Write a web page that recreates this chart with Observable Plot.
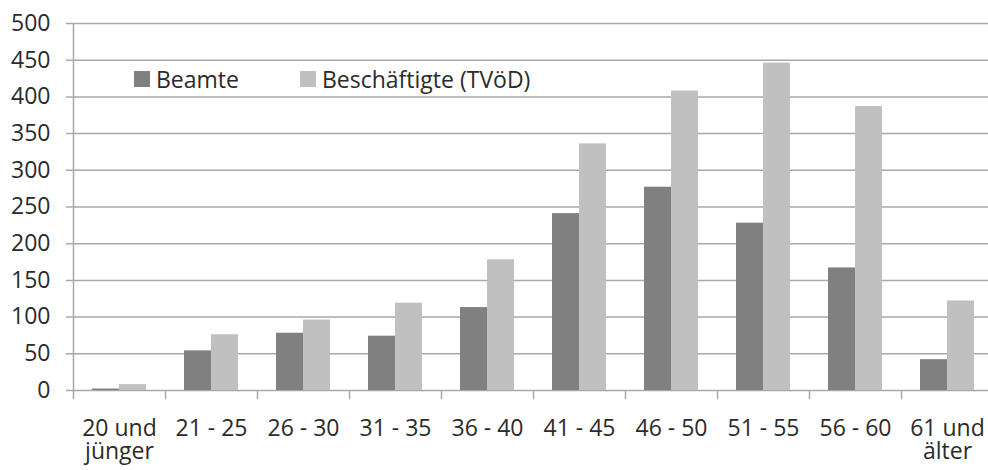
<!DOCTYPE html>
<html>
<head>
<meta charset="utf-8">
<script src="https://cdn.jsdelivr.net/npm/d3@7"></script>
<script src="https://cdn.jsdelivr.net/npm/@observablehq/plot@0.6"></script>
<style>
  html, body { margin: 0; padding: 0; background: #fff; }
  #wrap { position: relative; width: 988px; height: 470px; overflow: hidden; font-family: "Open Sans", sans-serif; }
  #legend { position: absolute; left: 134px; top: 63px; display: flex; align-items: center; font-size: 23px; color: #2b2b2b; }
  .item { display: flex; align-items: center; }
  .sw { width: 16px; height: 16px; margin-right: 6px; }
</style>
</head>
<body>
<div id="wrap"><div id="legend"></div></div>
<script>
const categories = ["20 und jünger", "21 - 25", "26 - 30", "31 - 35", "36 - 40", "41 - 45", "46 - 50", "51 - 55", "56 - 60", "61 und älter"];
const tickLabels = ["20 und\njünger", "21 - 25", "26 - 30", "31 - 35", "36 - 40", "41 - 45", "46 - 50", "51 - 55", "56 - 60", "61 und\nälter"];
const seriesNames = ["Beamte", "Beschäftigte (TVöD)"];
const beamte = [2, 54, 78, 74, 113, 241, 277, 228, 167, 42];
const beschaeftigte = [8, 76, 96, 119, 178, 336, 408, 446, 387, 122];
const yTicks = [0, 50, 100, 150, 200, 250, 300, 350, 400, 450, 500];
const colors = ["#808080", "#c0c0c0"];

const data = categories.flatMap((c, i) => [
  {cat: c, series: seriesNames[0], value: beamte[i]},
  {cat: c, series: seriesNames[1], value: beschaeftigte[i]}
]);

const gridColor = "#a8a8a8";
const step = 92;

const chart = Plot.plot({
  width: 988,
  height: 470,
  marginLeft: 73,
  marginRight: -5,
  marginTop: 23,
  marginBottom: 80,
  style: {fontFamily: "Open Sans, sans-serif", fontSize: "23px", color: "#2b2b2b", background: "transparent", overflow: "visible"},
  x: {domain: categories, padding: 0, axis: null},
  y: {domain: [0, 500], axis: null},
  marks: [
    Plot.ruleY(yTicks, {stroke: gridColor, strokeWidth: 1.5, insetLeft: -7}),
    Plot.barY(data.filter(d => d.series === seriesNames[0]), {x: "cat", y: "value", fill: colors[0], insetLeft: 19, insetRight: 46}),
    Plot.barY(data.filter(d => d.series === seriesNames[1]), {x: "cat", y: "value", fill: colors[1], insetLeft: 46, insetRight: 19}),
    Plot.ruleX([categories[0]], {x: d => d, dx: -step / 2, stroke: gridColor, strokeWidth: 1.5, insetBottom: -9}),
    Plot.ruleX(categories.slice(1), {x: d => d, dx: -step / 2, y1: 0, y2: 0, stroke: gridColor, strokeWidth: 1.5, insetBottom: -9}),
    Plot.axisY(yTicks, {tickSize: 0, tickPadding: 23, fill: "#2b2b2b", label: null}),
    Plot.axisX({tickSize: 0, tickPadding: 29, tickFormat: (d) => tickLabels[categories.indexOf(d)], lineHeight: 1.0, fill: "#2b2b2b", label: null})
  ]
});
document.getElementById("wrap").prepend(chart);

const legend = document.getElementById("legend");
seriesNames.forEach((s, i) => {
  const item = document.createElement("div");
  item.className = "item";
  if (i === 0) item.style.marginRight = "61px";
  const sw = document.createElement("div");
  sw.className = "sw";
  sw.style.background = colors[i];
  const t = document.createElement("span");
  t.textContent = s;
  item.append(sw, t);
  legend.append(item);
});
</script>
</body>
</html>
